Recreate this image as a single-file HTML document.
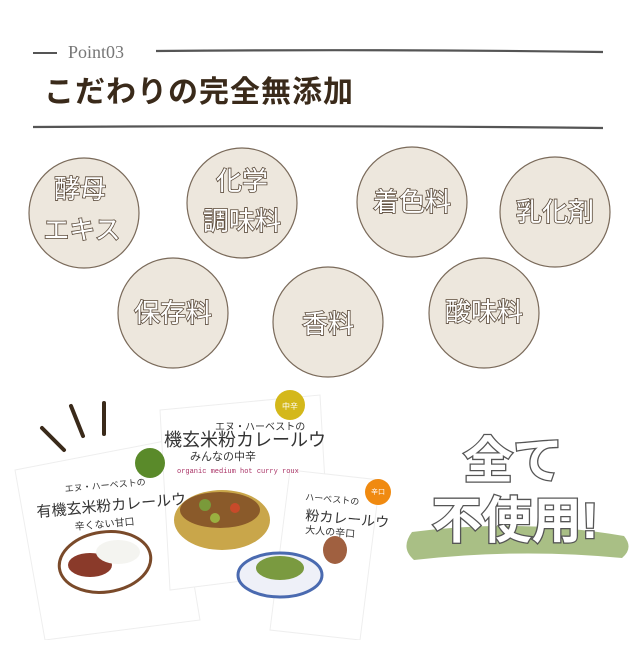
<!DOCTYPE html>
<html><head><meta charset="utf-8"><style>
html,body{margin:0;padding:0;background:#fff;}
body{width:640px;height:640px;overflow:hidden;position:relative;}
</style></head><body>
<svg width="640" height="640" viewBox="0 0 640 640" xmlns="http://www.w3.org/2000/svg">
<line x1="33" y1="53" x2="57" y2="53" stroke="#555" stroke-width="2"/>
<path d="M156 51 Q380 49 603 52" stroke="#555" stroke-width="2.2" fill="none"/>
<text x="68" y="58" font-family="Liberation Serif, serif" font-size="18" fill="#777">Point03</text>
<text x="44" y="102" font-family="Liberation Sans, Noto Sans CJK JP, sans-serif" font-size="30" font-weight="bold" fill="#3a2a1a" letter-spacing="1">こだわりの完全無添加</text>
<path d="M33 127 Q320 125 603 128" stroke="#555" stroke-width="2.2" fill="none"/>

<g fill="#ede7dd" stroke="#7a6a5a" stroke-width="1.2">
<circle cx="84" cy="213" r="55"/>
<circle cx="242" cy="203" r="55"/>
<circle cx="412" cy="202" r="55"/>
<circle cx="555" cy="212" r="55"/>
<circle cx="173" cy="313" r="55"/>
<circle cx="328" cy="322" r="55"/>
<circle cx="484" cy="313" r="55"/>
</g>
<g font-family="Liberation Sans, Noto Sans CJK JP, sans-serif" font-size="26" fill="#fff" stroke="#5a4a3a" stroke-width="1.6" paint-order="stroke" text-anchor="middle">
<text x="80" y="198">酵母</text>
<text x="82" y="239">エキス</text>
<text x="242" y="190">化学</text>
<text x="242" y="230">調味料</text>
<text x="412" y="211">着色料</text>
<text x="555" y="221">乳化剤</text>
<text x="173" y="322">保存料</text>
<text x="328" y="333">香料</text>
<text x="484" y="321">酸味料</text>
</g>

<g stroke="#3a2a1a" stroke-width="4" stroke-linecap="round">
<line x1="42" y1="428" x2="64" y2="450"/>
<line x1="71" y1="406" x2="83" y2="436"/>
<line x1="104" y1="403" x2="104" y2="434"/>
</g>

<g>
<polygon points="15,470 170,440 200,620 45,640" fill="#fff" stroke="#eee"/>
<polygon points="160,410 320,395 330,570 170,590" fill="#fff" stroke="#eee"/>
<polygon points="290,470 380,480 360,640 270,630" fill="#fff" stroke="#eee"/>
</g>
<circle cx="150" cy="463" r="15" fill="#5a8a2a"/>
<circle cx="290" cy="405" r="15" fill="#d4b81a"/>
<text x="290" y="409" font-family="Liberation Sans, Noto Sans CJK JP, sans-serif" font-size="8" fill="#fff" text-anchor="middle">中辛</text>
<circle cx="378" cy="492" r="13" fill="#f08a10"/>
<text x="378" y="494" font-family="Liberation Sans, Noto Sans CJK JP, sans-serif" font-size="7" fill="#fff" text-anchor="middle">辛口</text>
<g font-family="Liberation Sans, Noto Sans CJK JP, sans-serif" fill="#333">
<text x="215" y="430" font-size="10">エヌ・ハーベストの</text>
<text x="164" y="446" font-size="18">機玄米粉カレールウ</text>
<text x="190" y="460" font-size="11">みんなの中辛</text>
<text x="65" y="492" font-size="9" transform="rotate(-5 65 492)">エヌ・ハーベストの</text>
<text x="37" y="517" font-size="15" transform="rotate(-5 37 517)">有機玄米粉カレールウ</text>
<text x="75" y="530" font-size="10" transform="rotate(-5 75 530)">辛くない甘口</text>
<text x="305" y="500" font-size="9" transform="rotate(5 305 500)">ハーベストの</text>
<text x="305" y="520" font-size="14" transform="rotate(5 305 520)">粉カレールウ</text>
<text x="305" y="533" font-size="10" transform="rotate(5 305 533)">大人の辛口</text>
</g>
<text x="177" y="473" font-family="Liberation Mono, monospace" font-size="7" fill="#a36">organic medium hot curry roux</text>
<ellipse cx="222" cy="520" rx="48" ry="30" fill="#c9a64a"/>
<ellipse cx="220" cy="510" rx="40" ry="18" fill="#8a5a2a"/>
<circle cx="205" cy="505" r="6" fill="#7a9a3a"/><circle cx="235" cy="508" r="5" fill="#c84a2a"/><circle cx="215" cy="518" r="5" fill="#9ab040"/>
<ellipse cx="105" cy="562" rx="46" ry="30" fill="#fff" stroke="#7a4a2a" stroke-width="3" transform="rotate(-8 105 562)"/>
<ellipse cx="90" cy="565" rx="22" ry="12" fill="#8a3a2a"/>
<ellipse cx="118" cy="552" rx="22" ry="12" fill="#f4f4f0"/>
<ellipse cx="280" cy="575" rx="42" ry="22" fill="#eef0f8" stroke="#4a6ab0" stroke-width="3"/>
<ellipse cx="280" cy="568" rx="24" ry="12" fill="#7a9a40"/>
<ellipse cx="335" cy="550" rx="12" ry="14" fill="#a06040"/>

<path d="M412 532 Q520 518 624 536 Q634 548 622 558 Q520 548 414 560 Q400 548 412 532Z" fill="#a9bf85"/>
<g font-family="Liberation Sans, Noto Sans CJK JP, sans-serif" font-weight="bold" fill="#fff" stroke="#555" stroke-width="2.6" paint-order="stroke" text-anchor="middle">
<text x="513" y="478" font-size="50">全て</text>
<text x="515" y="538" font-size="50">不使用!</text>
</g>
</svg>
</body></html>
